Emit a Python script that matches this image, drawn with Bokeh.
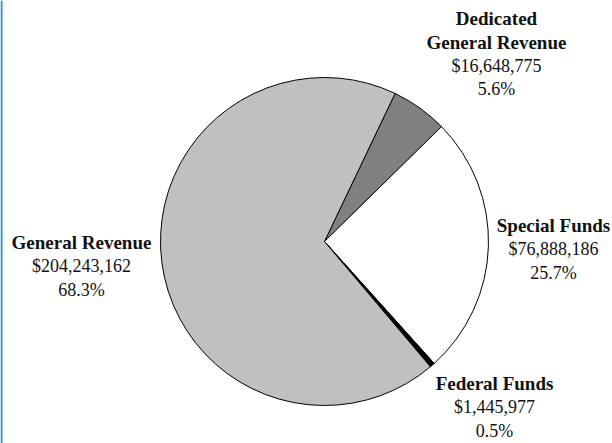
import math
from bokeh.plotting import figure
from bokeh.models import Range1d, ColumnDataSource
from bokeh.core.properties import value
from bokeh.embed import file_html
from bokeh.resources import INLINE

# ---- data (clockwise order starting at upper right) ----
categories = ["Dedicated\nGeneral Revenue", "Special Funds", "Federal Funds", "General Revenue"]
amounts = [16648775, 76888186, 1445977, 204243162]
colors = ["#808080", "#FFFFFF", "#000000", "#C0C0C0"]

# label anchor points (page pixels, centre of the label block's first line)
label_x = [496, 553, 494, 81]
label_y = [18, 225, 383, 242]

W, H = 612, 443
p = figure(width=W, height=H, output_backend="svg", toolbar_location=None,
           x_range=Range1d(0, W), y_range=Range1d(0, H), min_border=0)
p.axis.visible = False
p.grid.visible = False
p.outline_line_color = None
p.background_fill_color = "white"
p.border_fill_color = "white"

def X(px):
    return px

def Y(py):
    return H - py

total = float(sum(amounts))
start = math.radians(64.5)
cx, cy, r = X(324), Y(241), 164
starts, ends = [], []
cum = 0.0
for a in amounts:
    a0 = start - cum / total * 2 * math.pi
    cum += a
    a1 = start - cum / total * 2 * math.pi
    starts.append(a1)
    ends.append(a0)

src = ColumnDataSource(dict(start=starts, end=ends, color=colors,
                            x=[cx] * 4, y=[cy] * 4))
p.wedge(x="x", y="y", radius=r, start_angle="start", end_angle="end",
        fill_color="color", line_color="black", line_width=1, source=src)

# thin blue rule at the left edge of the reference
p.quad(left=[0], right=[2], bottom=[0], top=[H], fill_color="#1E8FDC", line_color=None)

font = value("Liberation Serif")
line_h = 23.5
for cat, amt, lx, ly in zip(categories, amounts, label_x, label_y):
    title_lines = cat.split("\n")
    y = ly
    for t in title_lines:
        p.text(x=[X(lx)], y=[Y(y)], text=[t], text_font=font, text_font_size="19px",
               text_font_style="bold", text_align="center", text_baseline="middle",
               text_color="#111111")
        y += line_h
    pct = amt / total * 100
    p.text(x=[X(lx)], y=[Y(y)], text=["${:,}".format(amt)], text_font=font,
           text_font_size="18px", text_align="center", text_baseline="middle",
           text_color="#111111")
    y += line_h
    p.text(x=[X(lx)], y=[Y(y)], text=["{:.1f}%".format(pct)], text_font=font,
           text_font_size="18px", text_align="center", text_baseline="middle",
           text_color="#111111")

open("out.html", "w").write(file_html(p, INLINE))
